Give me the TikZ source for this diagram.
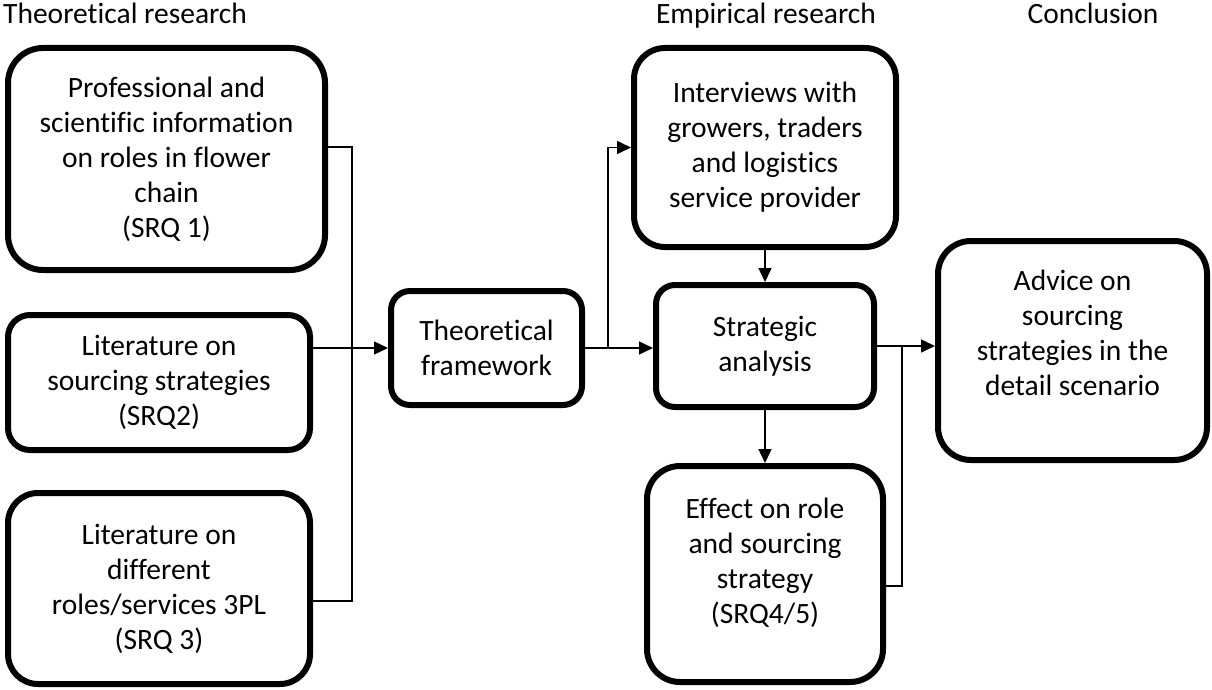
\documentclass[tikz,border=0pt]{standalone}
\usepackage{fontspec}
\setmainfont{Carlito}[Ligatures=NoCommon]
\usepackage{tikz}
\usetikzlibrary{arrows.meta, positioning}

\begin{document}
\begin{tikzpicture}[
    x=1pt, y=-1pt,
    stage/.style={rectangle, draw=black, line width=6pt, fill=white, text centered, align=center, inner sep=0pt, font=\fontsize{29.5}{35}\selectfont},
    heading/.style={inner sep=0pt, font=\fontsize{29.5}{35}\selectfont},
    line/.style={line width=1.5pt},
    arrow/.style={line width=1.5pt, -{Triangle[length=14pt, width=13pt]}}
]

\useasboundingbox (0,0) rectangle (1212,690);

\node (theo_head) [heading, anchor=base west] at (3,24) {Theoretical research};
\node (emp_head) [heading, anchor=base] at (766,24) {Empirical research};
\node (concl_head) [heading, anchor=base] at (1093,24) {Conclusion};

\node (prof) [stage, rounded corners=35pt, minimum width=317pt, minimum height=222pt, anchor=north west] at (5,45) {Professional and\\scientific information\\on roles in flower\\chain\\(SRQ 1)};
\node (litsrc) [stage, rounded corners=22pt, minimum width=302pt, minimum height=135pt, below=39pt of prof.south west, anchor=north west] {Literature on\\sourcing strategies\\(SRQ2)};
\node (lit3pl) [stage, rounded corners=30pt, minimum width=302pt, minimum height=191pt, below=37pt of litsrc.south west, anchor=north west] {Literature on\\different\\roles/services 3PL\\(SRQ 3)};
\node (theory) [stage, rounded corners=19pt, minimum width=191pt, minimum height=114pt, anchor=west] at (388,348) {Theoretical\\framework};
\node (interviews) [stage, rounded corners=31pt, minimum width=262pt, minimum height=199pt, anchor=north] at (765,45) {Interviews with\\growers, traders\\and logistics\\service provider};
\node (strategic) [stage, rounded corners=19pt, minimum width=218pt, minimum height=122pt, below=32pt of interviews] {Strategic\\analysis};
\node (effect) [stage, rounded corners=33pt, minimum width=236pt, minimum height=216pt, below=53pt of strategic] {Effect on role\\and sourcing\\strategy\\(SRQ4/5)\\[-8pt] \mbox{}};
\node (advice) [stage, rounded corners=33pt, minimum width=269pt, minimum height=219pt, anchor=west] at (935,350.5) {Advice on\\sourcing\\strategies in the\\detail scenario\\ \mbox{}};

% left bus into the framework
\coordinate (bus_left) at (352,348);
\draw [line] ([yshift=12pt]prof.east) -| (bus_left);
\draw [line] ([yshift=-12.5pt]lit3pl.east) -| (bus_left);
\draw [arrow] (litsrc.east |- theory.west) -- (theory.west);

% framework to empirical part
\coordinate (bus_mid) at ([xshift=23pt]theory.east);
\draw [arrow] (theory.east) -- (theory.east -| strategic.west);
\draw [arrow] (bus_mid) |- (interviews.west);
\draw [arrow] (interviews.south) -- (strategic.north);
\draw [arrow] (strategic.south) -- (effect.north);

% to the conclusion
\coordinate (bus_right) at ([xshift=25pt]strategic.east);
\draw [arrow] (strategic.east) -- (strategic.east -| advice.west);
\draw [line] ([yshift=-12pt]effect.east) -| (bus_right);

\end{tikzpicture}
\end{document}
